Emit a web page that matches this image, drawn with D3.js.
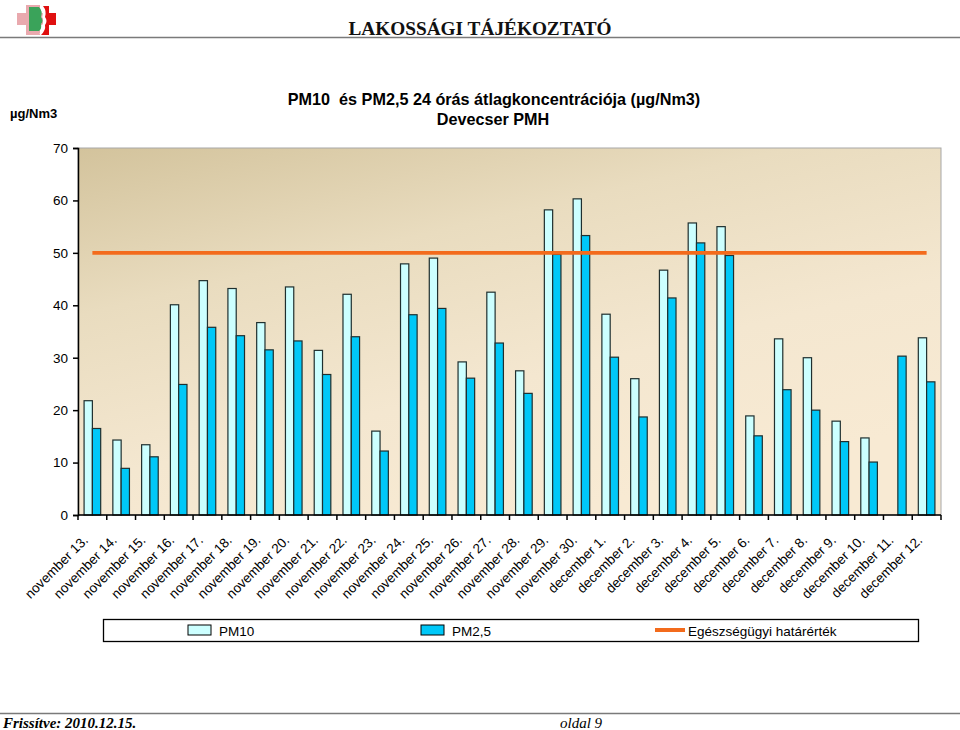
<!DOCTYPE html>
<html><head><meta charset="utf-8">
<script src="https://cdn.jsdelivr.net/npm/d3@7"></script>
<style>body{margin:0;background:#fff}svg{display:block}</style>
</head><body>
<svg id="c" width="960" height="730"></svg>
<script>
const categories = ["november 13.","november 14.","november 15.","november 16.","november 17.","november 18.","november 19.","november 20.","november 21.","november 22.","november 23.","november 24.","november 25.","november 26.","november 27.","november 28.","november 29.","november 30.","december 1.","december 2.","december 3.","december 4.","december 5.","december 6.","december 7.","december 8.","december 9.","december 10.","december 11.","december 12."];
const pm10 = [21.8,14.3,13.4,40.1,44.7,43.2,36.7,43.5,31.4,42.1,16.0,47.9,49.0,29.2,42.5,27.5,58.2,60.3,38.3,26.0,46.7,55.7,55.0,18.9,33.6,30.0,17.9,14.7,null,33.8];
const pm25 = [16.5,8.9,11.1,24.9,35.8,34.2,31.5,33.2,26.8,34.0,12.2,38.2,39.4,26.1,32.8,23.2,49.7,53.3,30.1,18.7,41.4,51.9,49.5,15.1,23.9,20.0,14.0,10.1,30.3,25.4];
const limitValue = 50;
const yTicks = [0,10,20,30,40,50,60,70];
const seriesNames = ["PM10","PM2,5","Egészségügyi határérték"];

const svg = d3.select("#c");
const L = 78, R = 941, T = 148, B = 515;
const x = d3.scaleBand().domain(categories).range([L, R]).paddingInner(0).paddingOuter(0);
const y = d3.scaleLinear().domain([0,70]).range([B, T]);
const sub = d3.scaleBand().domain(["pm10","pm25"]).range([0, 16.6]);
const groupOff = (x.bandwidth() - 16.6) / 2;
const sans = "Liberation Sans, Arial, sans-serif";

const defs = svg.append("defs");
const g1 = defs.append("linearGradient").attr("id","bg").attr("x1","0").attr("y1","0").attr("x2","0.55").attr("y2","1");
g1.append("stop").attr("offset","0").attr("stop-color","#d3c39c");
g1.append("stop").attr("offset","0.35").attr("stop-color","#e9dcbf");
g1.append("stop").attr("offset","0.7").attr("stop-color","#f4e7d0");
g1.append("stop").attr("offset","1").attr("stop-color","#f8ead3");

// logo
const logo = svg.append("g");
logo.append("rect").attr("x",17).attr("y",13).attr("width",26).attr("height",12).attr("fill","#e9a9ae");
logo.append("rect").attr("x",26).attr("y",5).attr("width",14).attr("height",30).attr("fill","#e9a9ae");
logo.append("path").attr("d","M29,7 L39,7 Q43,11 41,17 Q44,21 41,24 Q42,29 39,31 L29,31 Z").attr("fill","#3aa35a");
logo.append("path").attr("d","M41,6 Q45,11 43,17 Q46,21 43,25 Q44,30 40,34").attr("fill","none").attr("stroke","#fff").attr("stroke-width",1.5);
logo.append("path").attr("d","M43,6 L49,6 L49,13 L56,13 L56,25 L49,25 L49,35 L41,35 Q46,30 45,25 Q48,21 45,17 Q47,11 43,6 Z").attr("fill","#e01010");

svg.append("text").attr("x",480).attr("y",35).attr("text-anchor","middle")
  .attr("font-family","Liberation Serif, serif").attr("font-weight","bold").attr("font-size",19.3)
  .attr("fill","#111").text("LAKOSSÁGI TÁJÉKOZTATÓ");
svg.append("line").attr("x1",0).attr("x2",960).attr("y1",37.5).attr("y2",37.5).attr("stroke","#7a7a7a").attr("stroke-width",1.5);

// title
const tt = svg.append("text").attr("text-anchor","middle").attr("font-family",sans)
  .attr("font-weight","bold").attr("font-size",16.2).attr("fill","#000");
tt.append("tspan").attr("x",494).attr("y",105).attr("xml:space","preserve").text("PM10  és PM2,5 24 órás átlagkoncentrációja (µg/Nm3)");
tt.append("tspan").attr("x",493).attr("y",125).text("Devecser PMH");
svg.append("text").attr("x",10).attr("y",118).attr("font-family",sans)
  .attr("font-weight","bold").attr("font-size",13).text("µg/Nm3");

// plot area
svg.append("rect").attr("x",L).attr("y",T).attr("width",R-L).attr("height",B-T).attr("fill","url(#bg)")
  .attr("stroke","#a8a8a8").attr("stroke-width",1);

// bars
const bars = svg.append("g");
categories.forEach((c,i)=>{
  const gx = x(c) + groupOff;
  if (pm10[i] != null) bars.append("rect").attr("x",gx+sub("pm10")).attr("y",y(pm10[i])).attr("width",sub.bandwidth()).attr("height",y(0)-y(pm10[i]))
    .attr("fill","#ccffff").attr("stroke","#1f2f2f").attr("stroke-width",1.2);
  if (pm25[i] != null) bars.append("rect").attr("x",gx+sub("pm25")).attr("y",y(pm25[i])).attr("width",sub.bandwidth()).attr("height",y(0)-y(pm25[i]))
    .attr("fill","#00c8f8").attr("stroke","#1f2f2f").attr("stroke-width",1.2);
});

// limit line
const line = d3.line().x(d=>x(d)+x.bandwidth()/2).y(()=>y(limitValue));
svg.append("path").datum(categories).attr("d",line).attr("fill","none").attr("stroke","#f36b1c").attr("stroke-width",3.6);

// axes
const yAxis = d3.axisLeft(y).tickValues(yTicks).tickSize(5).tickPadding(5);
const ya = svg.append("g").attr("transform",`translate(${L},0)`).call(yAxis);
ya.select(".domain").attr("stroke","#000").attr("stroke-width",1.5);
ya.selectAll(".tick line").attr("stroke","#000").attr("stroke-width",1.5);
ya.selectAll("text").attr("font-family",sans).attr("font-size",13.5).attr("fill","#000");

const xa = svg.append("g").attr("transform",`translate(0,${B})`);
xa.append("line").attr("x1",L).attr("x2",R).attr("y1",0).attr("y2",0).attr("stroke","#000").attr("stroke-width",1.5);
const bounds = categories.map(c=>x(c)).concat([R]);
xa.selectAll("line.tk").data(bounds).enter().append("line").attr("class","tk")
  .attr("x1",d=>d).attr("x2",d=>d).attr("y1",0).attr("y2",5).attr("stroke","#000").attr("stroke-width",1.5);
xa.selectAll("text").data(categories).enter().append("text")
  .attr("transform",d=>`translate(${x(d)+x.bandwidth()/2-3.5},${26}) rotate(-45)`)
  .attr("text-anchor","end").attr("font-family",sans).attr("font-size",13.5).attr("fill","#000")
  .text(d=>d);

// legend
const lg = svg.append("g");
lg.append("rect").attr("x",103.5).attr("y",619.5).attr("width",815).attr("height",22).attr("fill","#fff").attr("stroke","#000").attr("stroke-width",1.3);
lg.append("rect").attr("x",188).attr("y",625).attr("width",23).attr("height",10).attr("fill","#ccffff").attr("stroke","#000");
lg.append("text").attr("x",219).attr("y",635.5).attr("font-family",sans).attr("font-size",13.5).text(seriesNames[0]);
lg.append("rect").attr("x",421).attr("y",625).attr("width",23).attr("height",10).attr("fill","#00c8f8").attr("stroke","#000");
lg.append("text").attr("x",452).attr("y",635.5).attr("font-family",sans).attr("font-size",13.5).text(seriesNames[1]);
lg.append("line").attr("x1",655).attr("x2",685).attr("y1",630).attr("y2",630).attr("stroke","#f36b1c").attr("stroke-width",4);
lg.append("text").attr("x",688).attr("y",635.5).attr("font-family",sans).attr("font-size",13.5).text(seriesNames[2]);

// footer
svg.append("line").attr("x1",0).attr("x2",960).attr("y1",713.5).attr("y2",713.5).attr("stroke","#7a7a7a").attr("stroke-width",1.5);
svg.append("text").attr("x",3).attr("y",728).attr("font-family","Liberation Serif, serif").attr("font-style","italic").attr("font-weight","bold")
  .attr("font-size",15).text("Frissítve: 2010.12.15.");
svg.append("text").attr("x",560).attr("y",728).attr("font-family","Liberation Serif, serif").attr("font-style","italic")
  .attr("font-size",15).text("oldal 9");
</script>
</body></html>
